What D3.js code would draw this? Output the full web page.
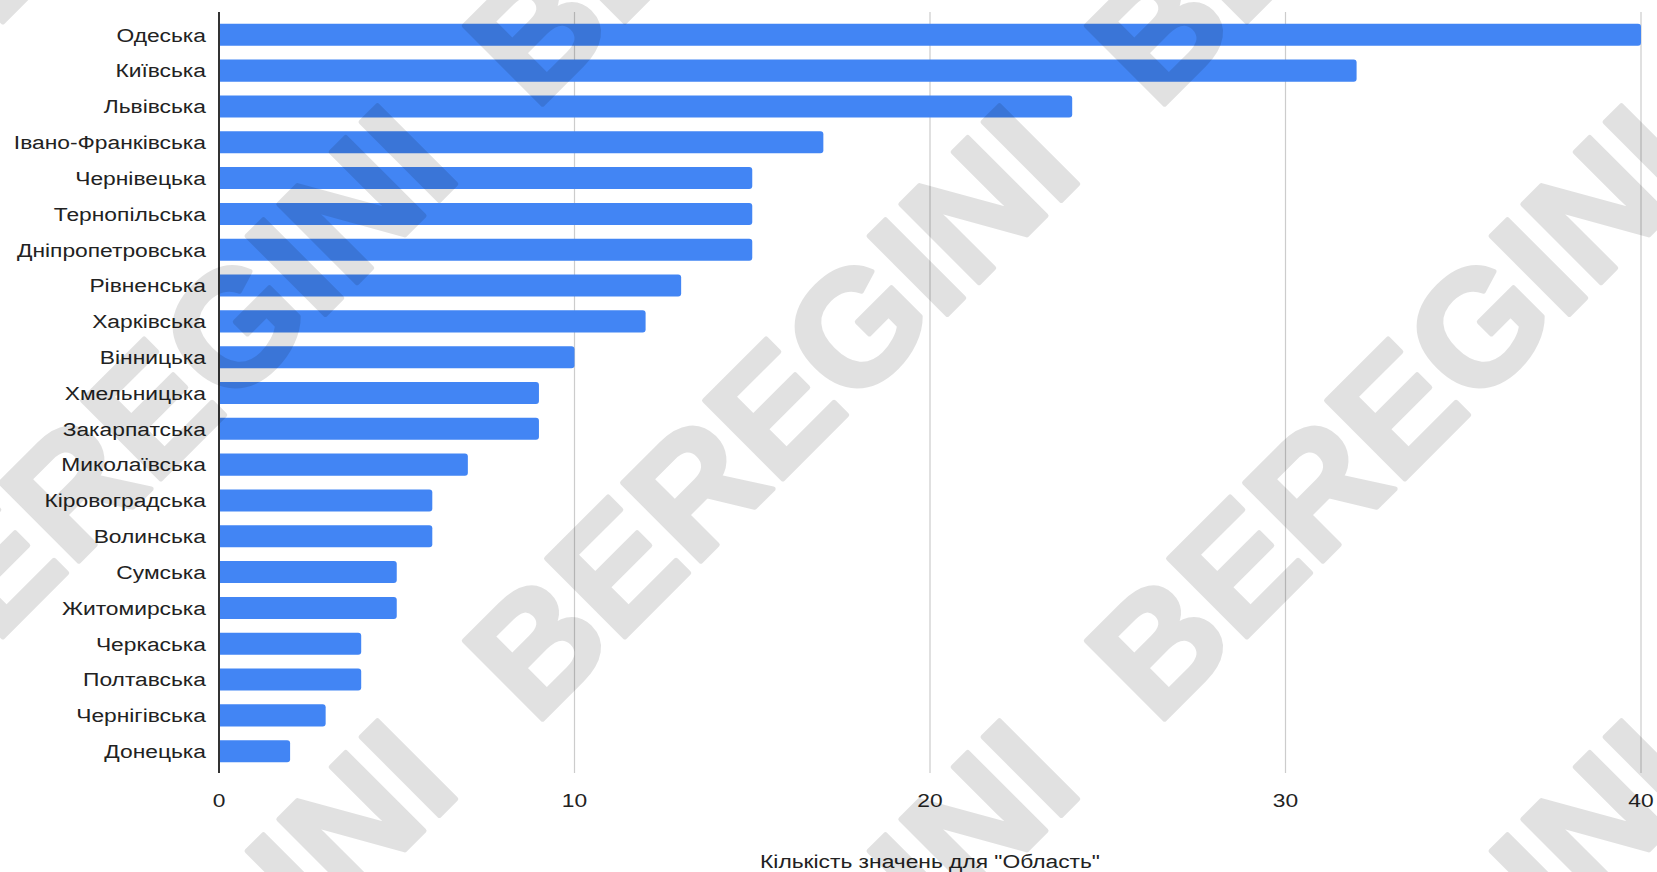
<!DOCTYPE html>
<html>
<head>
<meta charset="utf-8">
<script src="https://cdn.jsdelivr.net/npm/d3@7"></script>
<style>
  html, body { margin: 0; padding: 0; background: #fff; }
  svg { display: block; }
</style>
</head>
<body>
<svg id="chart" width="1657" height="872"></svg>
<script>
const categories = ["Одеська","Київська","Львівська","Івано-Франківська","Чернівецька","Тернопільська","Дніпропетровська","Рівненська","Харківська","Вінницька","Хмельницька","Закарпатська","Миколаївська","Кіровоградська","Волинська","Сумська","Житомирська","Черкаська","Полтавська","Чернігівська","Донецька"];
const values = [40,32,24,17,15,15,15,13,12,10,9,9,7,6,6,5,5,4,4,3,2];
const xTicks = [0,10,20,30,40];
const xTitle = "Кількість значень для \"Область\"";
const watermarkText = "BEREGINI";

const W = 1657, H = 872;
const svg = d3.select("#chart");
const font = "'Liberation Sans', Arial, sans-serif";
const stretch = 1.2;

const x = d3.scaleLinear().domain([0, 40]).range([219, 1641]);
const y = d3.scaleBand().domain(categories).range([17, 769]).paddingInner(0.385).paddingOuter(0.19);
const gridTop = 12, gridBottom = 773;

// gridlines
svg.append("g").selectAll("line").data(xTicks.filter(d => d > 0)).join("line")
  .attr("x1", d => x(d)).attr("x2", d => x(d))
  .attr("y1", gridTop).attr("y2", gridBottom)
  .attr("stroke", "#cccccc").attr("stroke-width", 1.2);

// bars with rounded right end
const r = 3;
svg.append("g").selectAll("path").data(categories).join("path")
  .attr("fill", "#4285f4")
  .attr("d", (c, i) => {
    const x0 = x(0), x1 = x(values[i]), y0 = y(c), h = y.bandwidth();
    return `M${x0},${y0}H${x1 - r}Q${x1},${y0} ${x1},${y0 + r}V${y0 + h - r}Q${x1},${y0 + h} ${x1 - r},${y0 + h}H${x0}Z`;
  });

// zero axis line
svg.append("line").attr("x1", x(0)).attr("x2", x(0)).attr("y1", gridTop).attr("y2", gridBottom)
  .attr("stroke", "#333").attr("stroke-width", 2);

// category labels
svg.append("g").selectAll("text").data(categories).join("text")
  .attr("transform", c => `translate(206,${y(c) + y.bandwidth() / 2}) scale(${stretch},1)`)
  .attr("dy", "0.36em")
  .attr("text-anchor", "end")
  .attr("font-family", font).attr("font-size", 19).attr("fill", "#222")
  .text(c => c);

// tick labels
svg.append("g").selectAll("text").data(xTicks).join("text")
  .attr("transform", d => `translate(${x(d)},800) scale(${stretch},1)`)
  .attr("dy", "0.36em")
  .attr("text-anchor", "middle")
  .attr("font-family", font).attr("font-size", 19).attr("fill", "#222")
  .text(d => d);

// axis title
svg.append("text")
  .attr("transform", `translate(${(x(0) + x(40)) / 2},861) scale(${stretch},1)`)
  .attr("dy", "0.36em")
  .attr("text-anchor", "middle")
  .attr("font-family", font).attr("font-size", 19).attr("fill", "#222")
  .text(xTitle);

// watermark tiles: B-letter centres on a grid
const fs = 161;
const cols = [-87, 535, 1157];
const rows = [30, 645, 1260];
const tiles = [];
rows.forEach(ry => cols.forEach(cx => tiles.push([cx, ry])));
svg.append("g").attr("pointer-events", "none").attr("opacity", 0.12)
  .selectAll("text").data(tiles).join("text")
  .attr("transform", d => `translate(${d[0]},${d[1] + 0.508 * fs}) rotate(-45)`)
  .attr("font-family", font).attr("font-weight", "bold").attr("font-size", fs)
  .attr("fill", "#000").attr("stroke", "#000").attr("stroke-width", 5).attr("stroke-linejoin", "round")
  .text(watermarkText);
</script>
</body>
</html>
